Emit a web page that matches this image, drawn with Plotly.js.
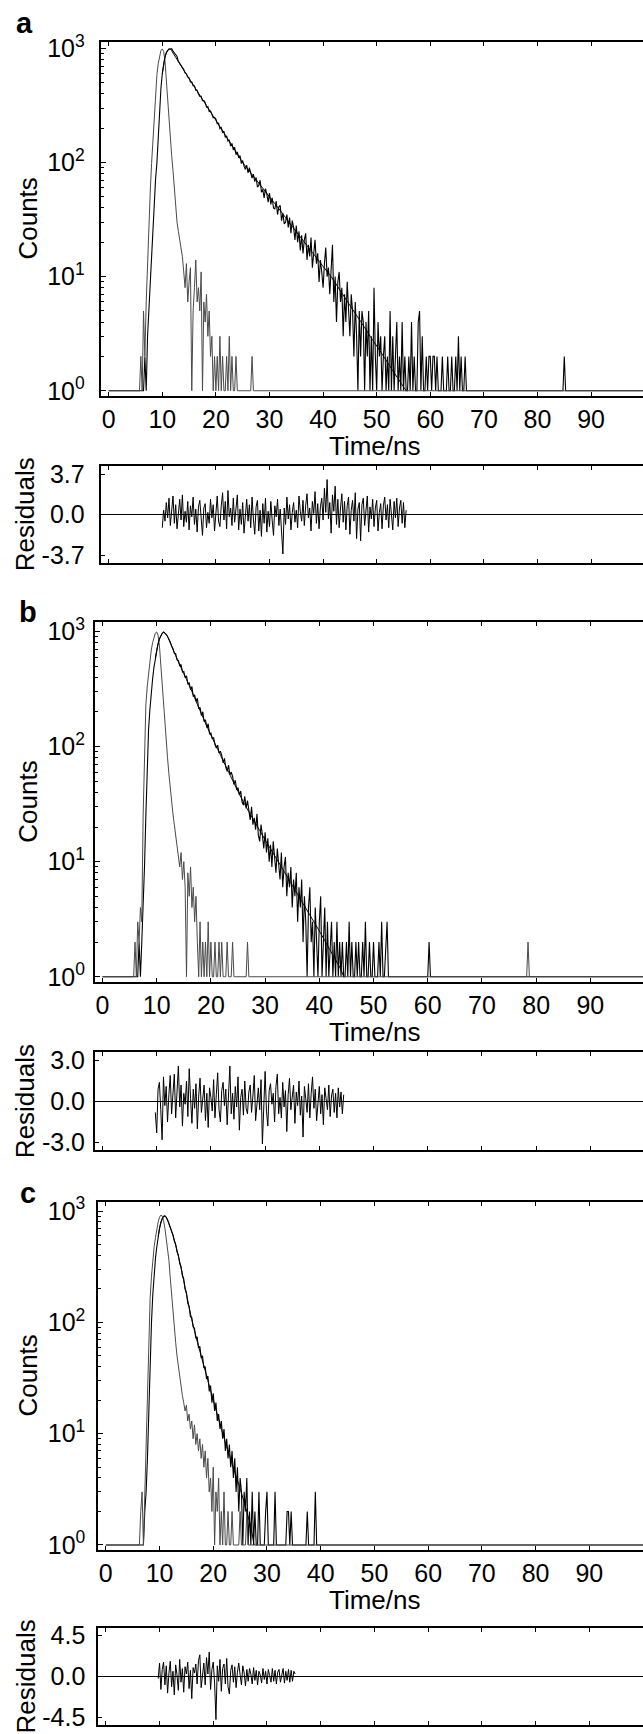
<!DOCTYPE html>
<html><head><meta charset="utf-8">
<script src="https://cdn.plot.ly/plotly-3.0.1.min.js"></script>
<style>html,body{margin:0;padding:0;overflow:hidden;background:#fff;width:643px;height:1734px}#chart{width:680px;height:1734px}</style>
</head><body><div id="chart"></div>
<script>
const dt = 0.25; // ns per channel
function rep(v, n) { return new Array(n).fill(v); }

const tickTimes = [0,10,20,30,40,50,60,70,80,90];
const countTicks = [1,10,100,1000];
const countTickText = ['10<sup>0</sup>','10<sup>1</sup>','10<sup>2</sup>','10<sup>3</sup>'];
const minorCounts = [2,3,4,5,6,7,8,9,20,30,40,50,60,70,80,90,200,300,400,500,600,700,800,900];

// ---------- panel a ----------
const decA = [...rep(1,24),
 1,1,1,2, 1,3,5,9, 16,29,48,72, 100,170,300,450, 600,730,840,920, 965,990,985,995,
 950,915,880,850, 771,740,695,682, 652,611,599,560, 551,509,507,471, 470,431,430,398,
 380,381,349,350, 336,305,309,280, 283,266,247,249, 241,219,221,198, 203,183,188,166,
 171,154,158,139, 147,129,136,117, 124,110,115,98, 104,93,87,95, 81,90,78,73,
 79,68,74,61, 63,70,55,58, 49,59,53,45, 54,43,49,40, 39,46,35,41,
 42,31,36,29, 30,35,27,33, 24,31,27,21, 28,20,25,17, 23,16,21,24,
 14,19,15,22, 12,17,21,13, 16,9,14,11, 8,13,18,10, 12,7,11,19,
 6,10,4,9, 11,6,8,3, 7,4,9,5, 3,7,5,2, 6,3,1,5,
 2,5,4,1, 4,2,5,1, 3,1,8,2, 1,4,2,3, 1,2,3,1,
 2,1,5,1, 3,1,2,4, 1,2,1,4, 1,2,1,1, 2,1,4,1,
 2,1,1,4, 5,1,3,1, 1,2,1,2, 2,1,2,2, 1,2,1,1,
 1,2,1,1, 1,2,1,1, 2,1,1,2, 1,3,1,2, 1,1,2,1,
 ...rep(1,72), 2, ...rep(1,68)];
const irfA = [...rep(1,24),
 2,1,5,2, 6,14,29,55, 98,160,280,430, 590,740,870,960, 990,940,780,520,
 340,230,160,115, 85,60,40,30, 25,21,18,15, 11,8,13,6, 9,12,1,5,
 8,14,6,8, 5,11,1,6, 4,7,3,5, 2,3,1,2, 1,2,1,3,
 1,2,1,1, 2,1,3,1, 2,1,1,2, 1,1,1,1, 1,1,1,1, 1,1,1,2,
 ...rep(1,301)];
const fitTimesA = [10,10.5,11,11.5,12,13,14,15,16,17,18,19,20,22,24,25,26,28,30,32,34,36,38,40,41.5,43,45,47,49,51,53,55.5];
const fitA = [600,840,965,990,912,767,646,545,461,389,329,277,234,167,119,100,87,66,50,38,28.5,21.5,16.3,12.3,10,7.8,5.6,4.05,2.9,2.1,1.5,1.0];
const resStartA = 10.0;
const resA = [-1.2,0.4,-0.6,1.1, -0.3,1.5,-1.0,0.6, 1.7,-0.8,0.9,-1.3, 0.2,1.4,-0.5,1.8, -1.1,0.3,-0.7,1.2,
 -1.4,0.8,-0.2,1.6, -0.9,0.5,-1.6,0.7, 1.3,-0.4,-1.9,0.6, 1.0,-1.2,0.2,-0.8, 1.4,-0.3,0.9,-1.5,
 0.4,1.7,-0.6,-1.1, 0.8,2.0,-0.5,1.2, -1.3,2.2,-0.2,0.6, -1.0,1.5,-0.7,0.3, 1.8,-1.4,0.5,-0.9,
 1.1,-1.7,0.2,1.4, -0.6,0.9,-1.2,1.6, -0.4,-1.8,0.7,1.3, -1.5,0.4,-2.0,1.0, -0.8,1.5,-1.6,0.3,
 -1.1,1.2,-0.5,-1.9, 0.8,-0.2,1.4,-1.0, 0.5,-1.3,-3.6,0.6, -0.9,1.6,-0.4,0.9, -1.4,0.2,1.1,-0.7,
 0.4,-1.2,1.7,0.3, -0.6,1.3,-1.0,0.8, 1.9,-0.3,0.6,-1.5, 1.2,0.1,2.1,-0.8, 1.0,-1.3,0.7,1.5,
 -0.5,2.4,0.2,3.2, -0.4,1.1,-1.7,1.8, 0.3,2.6,-0.9,1.4, -1.2,0.6,1.9,-0.7, 1.2,-1.4,0.8,1.6,
 -1.8,0.4,1.3,-0.6, 2.0,-2.2,0.5,1.1, -2.4,0.9,1.5,-1.0, 0.3,1.7,-1.6,0.7, -0.4,1.4,-1.1,0.6,
 1.3,-1.5,0.2,1.0, -1.3,0.8,1.6,-0.5, 0.9,-1.2,1.4,0.1, -1.4,1.2,-0.3,1.5, -1.1,0.6,1.3,-0.8,
 1.1,-1.2,0.4];

// ---------- panel b ----------
const decB = [...rep(1,24),
 1,1,1,2, 1,2,4,9, 25,70,140,210, 300,390,490,590, 690,780,860,920, 960,990,975,945,
 905,862,810,748, 712,648,641,566, 561,505,517,445, 449,398,412,351, 357,311,333,271,
 282,247,263,214, 219,186,201,165, 171,146,158,128, 131,117,120,104, 97,103,88,91,
 84,72,79,66, 61,69,57,60, 55,47,51,42, 44,38,41,33, 31,37,29,34,
 28,23,30,21, 24,19,26,17, 15,21,17,13, 18,12,16,10, 14,9,15,11,
 8,13,10,7, 12,6,9,11, 5,8,6,9, 4,7,5,8, 3,6,4,7,
 2,5,3,1, 4,6,2,3, 1,4,2,1, 3,5,1,2, 4,1,3,1,
 2,3,1,2, 1,3,1,2, 1,2,1,1, 2,1,3,1, 2,1,1,2,
 1,2,1,1, 2,1,3,1, 1,2,1,1, 2,1,1,1, 2,1,3,1, 1,2,3,1,
 ...rep(1,29), 2, ...rep(1,167)];
const irfB = [...rep(1,24),
 2,1,3,2, 4,3,25,110, 230,330,440,560, 690,800,900,970, 990,930,760,520,
 300,210,150,110, 80,58,43,33, 26,21,17,14, 11,9,12,7, 10,6,1,8,
 5,9,4,6, 3,5,2,1, 3,1,2,1, 2,1,3,1, 2,1,1,2,
 1,1,2,1, 2,1,1,1, 2,1,1,1, 2,1,1,1, 1,1,1,1, 1,1,1,2,
 ...rep(1,206), 2, ...rep(1,94)];
const fitTimesB = [9.75,10,10.5,11,11.25,11.5,12,13,14,15,16,17,18,19,20,22,24,26,28,30,32,34,36,38,40,42,44,44.5];
const fitB = [590,690,860,960,985,975,905,700,545,430,340,265,205,160,126,80,51,33,22.5,15.5,10.8,7.5,5.2,3.6,2.5,1.7,1.15,1.0];
const resStartB = 9.75;
const resB = [-0.8,-2.3,0.9,1.4, -0.6,-2.8,1.8,-0.3, 1.1,-1.5,0.5,1.9, -0.9,0.3,2.0,-1.2, 0.7,2.6,-0.4,1.2,
 -1.8,0.6,-0.2,1.5, -1.1,2.4,0.2,-1.6, 0.9,-0.5,1.3,-2.0, 0.4,1.7,-0.8,0.1, 1.2,-1.4,0.6,-1.9,
 1.0,0.3,-0.7,1.6, -1.2,0.5,2.1,-0.6, -1.5,0.8,1.4,-0.3, 0.9,-1.7,0.2,2.6, -0.9,0.6,-1.3,1.1,
 -0.4,1.8,-2.1,0.3, 0.9,-1.0,1.5,-0.5, -0.9,0.7,1.2,-0.8, 0.4,1.9,-1.4,0.1, 1.0,-0.6,1.6,-3.1,
 0.5,2.2,-0.7,-1.8, 0.8,1.3,-0.2,0.6, -1.5,1.1,2.0,-0.9, 0.3,-1.2,1.4,-0.4, 0.8,-2.2,0.5,1.7,
 -0.6,0.2,1.2,-1.6, 0.7,-0.3,1.5,-1.0, 0.4,-2.6,1.1,0.2, -0.8,1.3,-1.2,0.6, 1.8,-0.5,0.9,-1.4,
 0.3,1.1,-0.9,0.5, -1.7,1.0,0.2,-0.6, 1.2,-1.1,0.4,0.9, -0.8,0.6,-1.2,1.0, -0.4,0.7,-0.9,0.5];

// ---------- panel c ----------
const decC = [...rep(1,28),
 1,2,3,6, 18,45,100,180, 280,380,480,590, 700,790,860,900, 905,880,830,770,
 718,651,612,538, 503,431,402,338, 318,262,247,198, 187,149,139,112, 111,91,89,72,
 74,59,61,48, 50,39,40,31, 33,24,27,19, 23,16,19,13, 15,11,13,9,
 11,7,9,6, 8,5,7,4, 6,3,5,2, 4,3,1,3, 2,4,1,2,
 1,3,1,2, 1,1,3,1, 1,1,1,2, 3,1,1,1, 1,1,3,1,
 1,1,1,1, 1,1,1,2, 2,1,2,1, 1,1,1,1, 1,1,1,1,
 1,1,2,1, 1,1,1,1, 3,1,1,1,
 ...rep(1,249)];
const irfC = [...rep(1,24),
 1,1,2,3, 1,3,6,30, 95,165,260,380, 480,580,690,800, 880,920,900,820,
 700,580,470,360, 250,170,125,90, 66,50,40,32, 26,22,19,16, 18,13,15,11,
 13,9,12,8, 10,7,9,6, 8,5,7,4, 6,3,4,2, 5,1,3,2,
 4,1,2,1, 3,1,1,2, 1,1,2,1, 1,1,1,1, 2,1,1,1, 1,2,1,1, 1,1,1,1,
 ...rep(1,297)];
const fitTimesC = [9.75,10,10.5,11,11.5,12,12.5,13,13.5,14,15,16,17,18,19,20,21,22,23,24,25,26,27,27.6];
const fitC = [590,700,860,905,830,710,605,495,395,310,180,106,68,45,30,20,13.5,9.2,6.4,4.5,3.2,2.2,1.45,1.0];
const resStartC = 9.75;
const resC = [-0.2,1.5,-1.4,0.8, 1.6,-0.9,1.2,-1.8, 0.4,1.7,-1.1,0.6, -2.0,1.3,0.2,-1.5, 1.9,-0.6,0.9,-1.7,
 1.1,0.3,1.6,-1.3, 0.7,-2.4,1.0,0.4, 1.4,-0.8,1.8,2.4, -1.2,0.6,1.5,-0.9, 2.1,0.3,2.7,-1.4,
 0.8,1.6,-0.7,-4.7, 1.2,-0.5,1.9,-1.6, 0.9,1.4,-0.8,2.0, -1.1,-1.9,0.7,1.3, -0.6,1.1,-1.2,0.5,
 1.5,0.2,-0.9,1.2, 0.4,-1.0,0.8,-0.5, 0.9,0.3,-0.8,1.0, -0.4,0.7,-0.9,0.6, 0.2,-0.7,0.9,-0.3,
 0.6,-0.8,0.8,0.1, -0.6,0.9,-0.5,0.7, -0.8,0.5,0.8,-0.6, 0.4,0.9,-0.7,0.6, -0.4,0.8,-0.6,0.7,
 -0.5,0.6,0.3];

// ---------- figure ----------
const W = 680, H = 1734, RIGHT = 650;
const fx = v => v / W, fy = v => 1 - v / H;
const FONT = 'Liberation Sans, Arial, Helvetica, sans-serif';

const panels = [
  {letter:'a', lx:24.6, ly:23.3, left:100.7, top:41.7, bottom:396, rtop:466, rbottom:562.7,
   xr:[-1.49,100.99], yr:[-0.046,3.059], rr:[-4.4,4.44], rt:3.7, ystand:9,
   dec:decA, irf:irfA, ft:fitTimesA, fit:fitA, r0:resStartA, res:resA},
  {letter:'b', lx:28, ly:611.7, left:95, top:622.3, bottom:981.7, rtop:1052.3, rbottom:1150,
   xr:[-1.38,101.0], yr:[-0.043,3.08], rr:[-3.55,3.6], rt:3.0, ystand:3,
   dec:decB, irf:irfB, ft:fitTimesB, fit:fitB, r0:resStartB, res:resB},
  {letter:'c', lx:28, ly:1192.7, left:98.3, top:1201.7, bottom:1550, rtop:1628, rbottom:1725,
   xr:[-1.4,101.3], yr:[-0.045,3.084], rr:[-5.3,5.35], rt:4.5, ystand:6,
   dec:decC, irf:irfC, ft:fitTimesC, fit:fitC, r0:resStartC, res:resC}
];

const traces = [];
const layout = {
  width: W, height: H, margin:{l:0,r:0,t:0,b:0}, showlegend:false,
  paper_bgcolor:'#fff', plot_bgcolor:'#fff',
  font:{family:FONT, size:25, color:'#000'},
  annotations: []
};

const axBase = {showline:true, linewidth:2, linecolor:'#000', mirror:'ticks', showgrid:false,
  zeroline:false, ticks:'inside', tickcolor:'#000', tickwidth:1, fixedrange:true,
  tickfont:{family:FONT, size:25, color:'#000'}};

panels.forEach((p, k) => {
  const sfx = (2*k+1 === 1 ? '' : String(2*k+1));
  const mx = 'x' + sfx, my = 'y' + sfx;
  const rx = 'x' + (2*k+2), ry = 'y' + (2*k+2);
  const xdom = [fx(p.left), fx(RIGHT)];
  layout['xaxis' + sfx] = Object.assign({}, axBase, {
    domain:xdom, anchor:my, range:p.xr, tickmode:'array', tickvals:tickTimes,
    ticklen:4, ticklabelstandoff:0});
  layout['yaxis' + sfx] = Object.assign({}, axBase, {
    domain:[fy(p.bottom), fy(p.top)], anchor:mx, type:'log', range:p.yr,
    tickmode:'array', tickvals:countTicks, ticktext:countTickText, ticklen:5,
    ticklabelstandoff:p.ystand,
    minor:{tickmode:'array', tickvals:minorCounts, ticks:'inside', ticklen:3, tickwidth:1, tickcolor:'#000', showgrid:false}});
  layout['xaxis' + (2*k+2)] = Object.assign({}, axBase, {
    domain:xdom, anchor:ry, range:p.xr, tickmode:'array', tickvals:tickTimes,
    ticklen:4, showticklabels:false});
  layout['yaxis' + (2*k+2)] = Object.assign({}, axBase, {
    domain:[fy(p.rbottom), fy(p.rtop)], anchor:rx, range:p.rr,
    tickmode:'array', tickvals:[-p.rt, 0, p.rt],
    ticktext:[(-p.rt).toFixed(1), '0.0', p.rt.toFixed(1)], ticklen:4,
    ticklabelstandoff:p.ystand, zeroline:true, zerolinecolor:'#000', zerolinewidth:1});

  const tDec = p.dec.map((_, i) => i * dt);
  const tIrf = p.irf.map((_, i) => i * dt);
  const tRes = p.res.map((_, i) => p.r0 + i * dt);
  traces.push({x:tDec, y:p.dec, xaxis:mx, yaxis:my, type:'scatter', mode:'lines',
    line:{color:'#000', width:1.1}, hoverinfo:'skip'});
  traces.push({x:tIrf, y:p.irf, xaxis:mx, yaxis:my, type:'scatter', mode:'lines',
    line:{color:'#4a4a4a', width:1}, hoverinfo:'skip'});
  traces.push({x:p.ft, y:p.fit, xaxis:mx, yaxis:my, type:'scatter', mode:'lines',
    line:{color:'#000', width:1, shape:'spline', smoothing:0.6}, hoverinfo:'skip'});
  traces.push({x:tRes, y:p.res, xaxis:rx, yaxis:ry, type:'scatter', mode:'lines',
    line:{color:'#000', width:1}, hoverinfo:'skip'});

  const ann = (text, x, y, extra) => Object.assign({text, x:fx(x), y:fy(y), xref:'paper', yref:'paper',
    showarrow:false, xanchor:'center', yanchor:'middle', font:{family:FONT, size:26, color:'#000'}}, extra || {});
  layout.annotations.push(ann('<b>' + p.letter + '</b>', p.lx, p.ly, {font:{family:FONT, size:29, color:'#000'}}));
  layout.annotations.push(ann('Counts', 27.7, (p.top + p.bottom) / 2, {textangle:-90}));
  layout.annotations.push(ann('Time/ns', 375, p.bottom + 50));
  layout.annotations.push(ann('Residuals', 25, (p.rtop + p.rbottom) / 2, {textangle:-90}));
});

Plotly.newPlot('chart', traces, layout, {staticPlot:true, displayModeBar:false});
</script></body></html>
